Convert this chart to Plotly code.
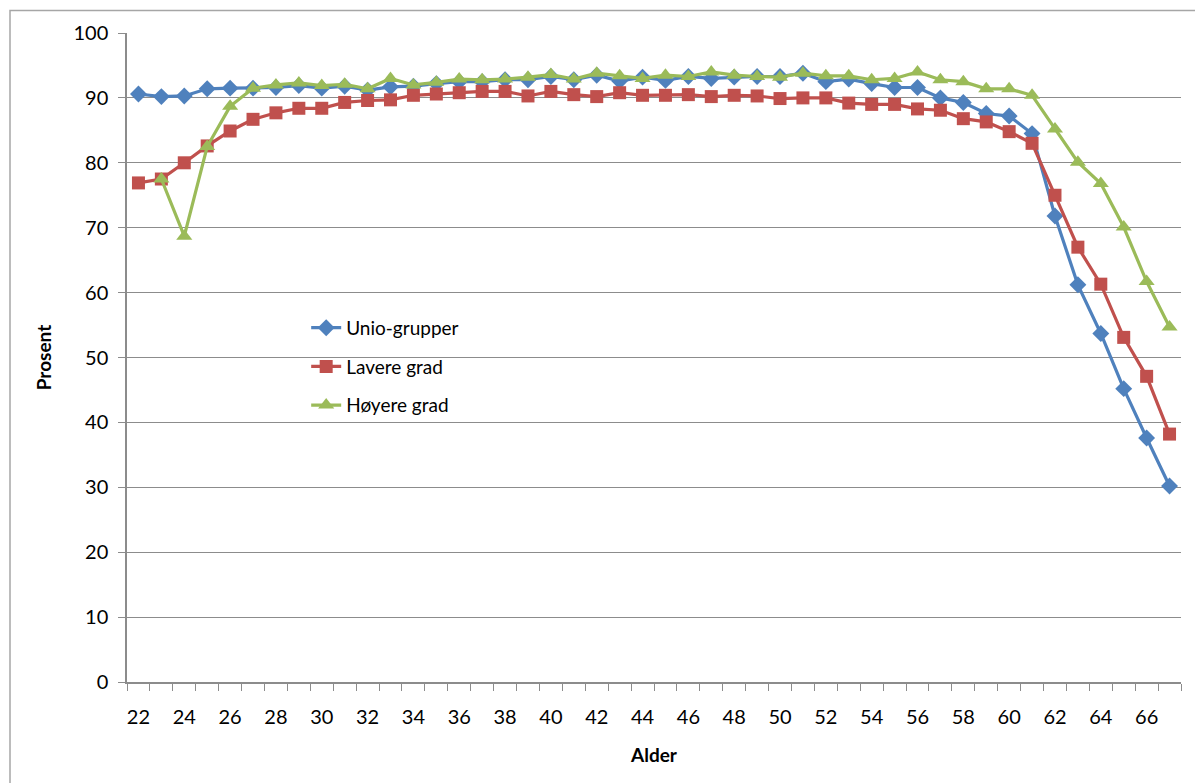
import plotly.graph_objects as go

ages = list(range(22, 68))

unio = [90.6, 90.2, 90.3, 91.4, 91.5, 91.5, 91.6, 91.9, 91.5, 91.8,
        91.2, 91.7, 91.8, 92.2, 92.5, 92.5, 92.8, 92.8, 93.3, 92.8,
        93.5, 92.6, 93.2, 92.7, 93.3, 93.0, 93.2, 93.3, 93.3, 93.8,
        92.5, 92.9, 92.2, 91.6, 91.6, 90.0, 89.3, 87.6, 87.2, 84.5,
        71.8, 61.2, 53.7, 45.2, 37.6, 30.2]

lavere = [76.9, 77.5, 80.0, 82.6, 84.9, 86.7, 87.7, 88.4, 88.4, 89.3,
          89.6, 89.7, 90.4, 90.6, 90.8, 91.0, 91.0, 90.3, 91.0, 90.5,
          90.2, 90.8, 90.4, 90.4, 90.5, 90.2, 90.4, 90.3, 89.9, 90.0,
          90.0, 89.2, 89.0, 89.0, 88.3, 88.1, 86.8, 86.3, 84.8, 83.0,
          75.0, 67.0, 61.3, 53.1, 47.1, 38.2]

hoyere = [None, 77.5, 68.7, 82.5, 88.7, 91.5, 92.0, 92.3, 91.9, 92.1,
          91.4, 93.0, 92.0, 92.4, 92.9, 92.8, 92.9, 93.2, 93.6, 92.9,
          93.8, 93.4, 93.0, 93.5, 93.3, 94.0, 93.5, 93.3, 93.2, 93.8,
          93.4, 93.4, 92.8, 93.0, 94.0, 92.8, 92.5, 91.4, 91.4, 90.4,
          85.2, 80.1, 76.8, 70.1, 61.7, 54.7]

tick_labels = list(range(22, 67, 2))

FONT = "Lato"

fig = go.Figure()
fig.add_trace(go.Scatter(x=ages, y=unio, name="Unio-grupper", mode="lines+markers",
                         legendgroup="a",
                         line=dict(color="#4F81BD", width=3.2),
                         marker=dict(symbol="diamond", size=13, color="#4F81BD")))
fig.add_trace(go.Scatter(x=ages, y=lavere, name="Lavere grad", mode="lines+markers",
                         legendgroup="b",
                         line=dict(color="#C0504D", width=3.2),
                         marker=dict(symbol="square", size=13, color="#C0504D")))
fig.add_trace(go.Scatter(x=ages, y=hoyere, name="Høyere grad", mode="lines+markers",
                         legendgroup="c",
                         line=dict(color="#9BBB59", width=3.2),
                         marker=dict(symbol="triangle-up", size=14, color="#9BBB59")))

fig.update_layout(
    width=1195, height=775,
    margin=dict(l=119, r=22, t=25, b=101),
    paper_bgcolor="white", plot_bgcolor="white",
    font=dict(family=FONT, size=20, color="#000000"),
    showlegend=True,
    legend=dict(x=0.17, y=0.575, xanchor="left", yanchor="top",
                bgcolor="rgba(0,0,0,0)", font=dict(size=19),
                tracegroupgap=11),
    xaxis=dict(range=[21.5, 67.5], tickmode="array", tickvals=tick_labels,
               ticktext=[str(v) for v in tick_labels], ticks="",
               showgrid=False, zeroline=False,
               showline=True, linecolor="#8C8C8C", linewidth=1.5,
               minor=dict(tick0=21.5, dtick=1, ticks="outside", ticklen=7,
                          tickcolor="#8C8C8C", showgrid=False),
               ticklabelstandoff=16,
               title=dict(text="<b>Alder</b>", font=dict(size=19), standoff=22)),
    yaxis=dict(range=[0, 100], dtick=10, ticks="outside", ticklen=7,
               tickcolor="#8C8C8C", showgrid=True, gridcolor="#8C8C8C", gridwidth=1,
               zeroline=False, showline=True, linecolor="#8C8C8C", linewidth=1.5,
               ticklabelstandoff=6,
               title=dict(text="<b>Prosent</b>", font=dict(size=19), standoff=17)),
)

fig.add_shape(type="rect", xref="paper", yref="paper",
              x0=(10 - 127) / 1054, x1=(1215 - 127) / 1054,
              y0=(682 - 800) / 649, y1=(682 - 10.5) / 649,
              line=dict(color="#A6A6A6", width=1.5), fillcolor="rgba(0,0,0,0)", layer="below")

fig.write_html("out.html")
